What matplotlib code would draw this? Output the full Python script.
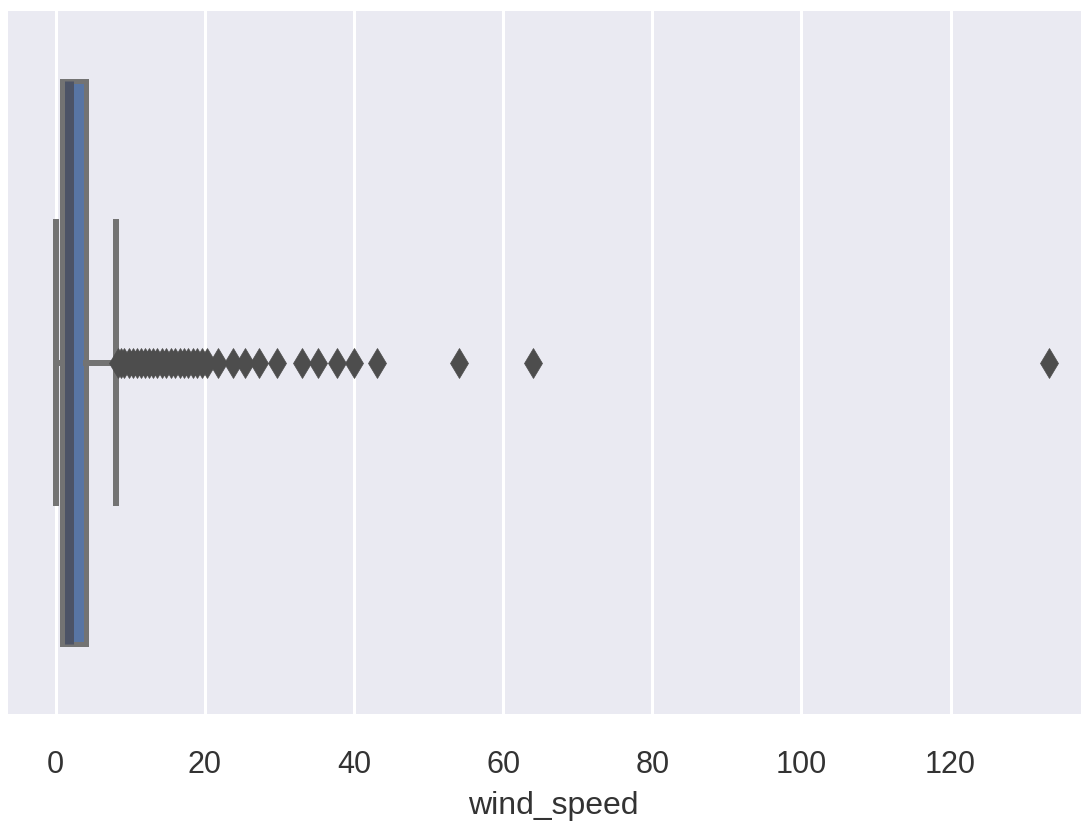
import matplotlib
matplotlib.use("Agg")
import matplotlib.pyplot as plt

# ---- data ----
variable = "wind_speed"
q1 = 0.8
median = 1.75
q3 = 4.1
whisker_low = 0.0
whisker_high = 8.05
outliers = [8.3, 8.8, 9.2, 9.8, 10.3, 10.9, 11.4, 12.0, 12.5, 13.0, 13.6, 14.2,
            14.8, 15.4, 16.0, 16.6, 17.2, 17.8, 18.4, 19.0, 19.6, 20.3, 21.8,
            23.8, 25.4, 27.2, 29.7, 33.0, 35.2, 37.7, 40.0, 43.1, 54.1, 64.0,
            133.2]
xticks = [0, 20, 40, 60, 80, 100, 120]

W, H, DPI = 1081, 828, 100
fig = plt.figure(figsize=(W / DPI, H / DPI), dpi=DPI)
fig.patch.set_facecolor("white")

left_px, right_px, top_px, bottom_px = 8, 1099, 12, 715
ax = fig.add_axes([left_px / W, 1 - bottom_px / H,
                   (right_px - left_px) / W, (bottom_px - top_px) / H])
ax.set_facecolor("#eaeaf2")
for s in ax.spines.values():
    s.set_visible(False)

stats = [dict(q1=q1, med=median, q3=q3, whislo=whisker_low, whishi=whisker_high,
              fliers=outliers, label=variable)]

px = 72 / DPI  # points per pixel
line_gray = "#737373"
ax.bxp(stats, positions=[0], widths=0.8, orientation="horizontal",
       patch_artist=True, manage_ticks=False,
       boxprops=dict(facecolor="#5875a4", edgecolor=line_gray, linewidth=5 * px),
       medianprops=dict(color="#4c5366", linewidth=9 * px, solid_capstyle="butt"),
       whiskerprops=dict(color=line_gray, linewidth=6 * px),
       capprops=dict(color=line_gray, linewidth=6 * px),
       flierprops=dict(marker="d", markerfacecolor="#4d4d4d",
                       markeredgecolor="#4d4d4d", markersize=15,
                       markeredgewidth=0.5, linestyle="none"),
       zorder=3)

ax.set_ylim(0.5, -0.5)
ax.set_xlim(-6.4, 139.9)
ax.set_xticks(xticks)
ax.set_xticklabels([str(t) for t in xticks])
ax.set_yticks([])
ax.grid(True, axis="x", color="white", linewidth=3 * px, zorder=0)
ax.set_axisbelow(True)
ax.tick_params(axis="x", length=0, pad=25, labelsize=22, labelcolor="#333333")
for lbl in ax.get_xticklabels():
    lbl.set_fontfamily("Liberation Sans")
ax.set_xlabel(variable, fontsize=23, color="#333333", labelpad=8,
              fontfamily="Liberation Sans")

fig.savefig("out.png", dpi=DPI)
